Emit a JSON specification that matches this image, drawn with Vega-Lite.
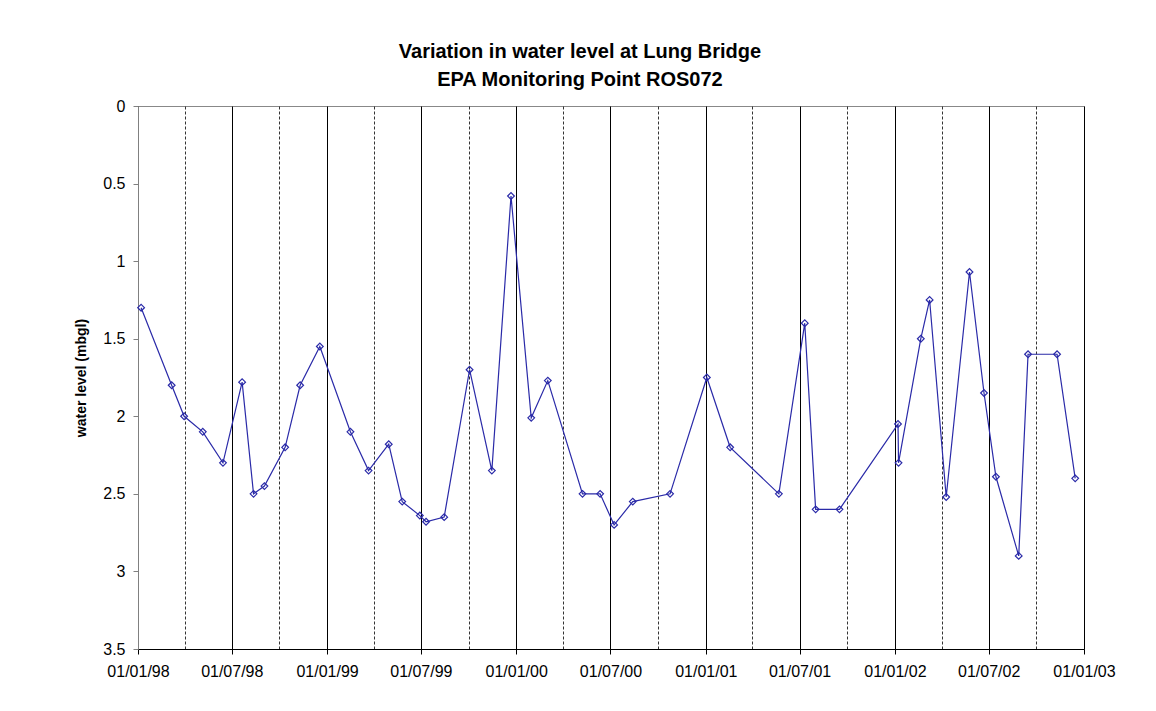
{
  "$schema": "https://vega.github.io/schema/vega-lite/v6.json",
  "autosize": {"type": "none"},
  "width": 946,
  "height": 543,
  "padding": {"left": 138, "top": 106, "right": 72, "bottom": 62},
  "background": "white",
  "config": {
    "font": "Liberation Sans",
    "view": {"stroke": "#888888", "strokeWidth": 1}
  },
  "title": {
    "text": ["Variation in water level at Lung Bridge", "EPA Monitoring Point ROS072"],
    "fontSize": 20,
    "fontWeight": "bold",
    "font": "Liberation Sans",
    "color": "black",
    "lineHeight": 28,
    "frame": "bounds",
    "anchor": "middle",
    "dx": -15,
    "offset": 8
  },
  "data": {
    "values": [
      {"date": "1998-01-07", "level": 1.3},
      {"date": "1998-03-07", "level": 1.8},
      {"date": "1998-03-31", "level": 2.0},
      {"date": "1998-05-06", "level": 2.1},
      {"date": "1998-06-14", "level": 2.3},
      {"date": "1998-07-21", "level": 1.78},
      {"date": "1998-08-12", "level": 2.5},
      {"date": "1998-09-02", "level": 2.45},
      {"date": "1998-10-12", "level": 2.2},
      {"date": "1998-11-10", "level": 1.8},
      {"date": "1998-12-18", "level": 1.55},
      {"date": "1999-02-15", "level": 2.1},
      {"date": "1999-03-22", "level": 2.35},
      {"date": "1999-04-30", "level": 2.18},
      {"date": "1999-05-26", "level": 2.55},
      {"date": "1999-06-29", "level": 2.64},
      {"date": "1999-07-11", "level": 2.68},
      {"date": "1999-08-15", "level": 2.65},
      {"date": "1999-10-03", "level": 1.7},
      {"date": "1999-11-15", "level": 2.35},
      {"date": "1999-12-22", "level": 0.58},
      {"date": "2000-01-30", "level": 2.01},
      {"date": "2000-03-02", "level": 1.77},
      {"date": "2000-05-08", "level": 2.5},
      {"date": "2000-06-11", "level": 2.5},
      {"date": "2000-07-08", "level": 2.7},
      {"date": "2000-08-13", "level": 2.55},
      {"date": "2000-10-24", "level": 2.5},
      {"date": "2001-01-03", "level": 1.75},
      {"date": "2001-02-17", "level": 2.2},
      {"date": "2001-05-22", "level": 2.5},
      {"date": "2001-07-11", "level": 1.4},
      {"date": "2001-08-01", "level": 2.6},
      {"date": "2001-09-16", "level": 2.6},
      {"date": "2002-01-07", "level": 2.05},
      {"date": "2002-01-08", "level": 2.3},
      {"date": "2002-02-20", "level": 1.5},
      {"date": "2002-03-09", "level": 1.25},
      {"date": "2002-04-10", "level": 2.52},
      {"date": "2002-05-25", "level": 1.07},
      {"date": "2002-06-22", "level": 1.85},
      {"date": "2002-07-15", "level": 2.39},
      {"date": "2002-08-28", "level": 2.9},
      {"date": "2002-09-15", "level": 1.6},
      {"date": "2002-11-10", "level": 1.6},
      {"date": "2002-12-15", "level": 2.4}
    ]
  },
  "encoding": {
    "x": {
      "field": "date",
      "type": "temporal",
      "scale": {
        "type": "utc",
        "domain": [
          {"year": 1998, "month": 1, "date": 1, "utc": true},
          {"year": 2003, "month": 1, "date": 1, "utc": true}
        ],
        "nice": false
      },
      "axis": {
        "title": null,
        "values": [
          {"year": 1998, "month": 1, "date": 1, "utc": true},
          {"year": 1998, "month": 4, "date": 1, "utc": true},
          {"year": 1998, "month": 7, "date": 1, "utc": true},
          {"year": 1998, "month": 10, "date": 1, "utc": true},
          {"year": 1999, "month": 1, "date": 1, "utc": true},
          {"year": 1999, "month": 4, "date": 1, "utc": true},
          {"year": 1999, "month": 7, "date": 1, "utc": true},
          {"year": 1999, "month": 10, "date": 1, "utc": true},
          {"year": 2000, "month": 1, "date": 1, "utc": true},
          {"year": 2000, "month": 4, "date": 1, "utc": true},
          {"year": 2000, "month": 7, "date": 1, "utc": true},
          {"year": 2000, "month": 10, "date": 1, "utc": true},
          {"year": 2001, "month": 1, "date": 1, "utc": true},
          {"year": 2001, "month": 4, "date": 1, "utc": true},
          {"year": 2001, "month": 7, "date": 1, "utc": true},
          {"year": 2001, "month": 10, "date": 1, "utc": true},
          {"year": 2002, "month": 1, "date": 1, "utc": true},
          {"year": 2002, "month": 4, "date": 1, "utc": true},
          {"year": 2002, "month": 7, "date": 1, "utc": true},
          {"year": 2002, "month": 10, "date": 1, "utc": true},
          {"year": 2003, "month": 1, "date": 1, "utc": true}
        ],
        "labelExpr": "utcmonth(datum.value) % 6 == 0 ? utcFormat(datum.value, '%d/%m/%y') : ''",
        "labelFontSize": 16,
        "labelColor": "black",
        "labelPadding": 9,
        "labelFlush": false,
        "labelOverlap": false,
        "tickSize": 5,
        "tickColor": "black",
        "tickOpacity": {"condition": {"test": "utcmonth(datum.value) % 6 == 0", "value": 1}, "value": 0},
        "domainColor": "black",
        "grid": true,
        "gridColor": {"condition": {"test": "utcmonth(datum.value) % 6 == 0", "value": "#000000"}, "value": "#333333"},
        "gridDash": {"condition": {"test": "utcmonth(datum.value) % 6 == 0", "value": []}, "value": [3, 2]},
        "gridOpacity": 1,
        "gridWidth": 1
      }
    },
    "y": {
      "field": "level",
      "type": "quantitative",
      "scale": {"domain": [0, 3.5], "reverse": true, "nice": false, "zero": false},
      "axis": {
        "title": "water level (mbgl)",
        "titleFontSize": 14,
        "titleFontWeight": "bold",
        "titleColor": "black",
        "titlePadding": 14,
        "values": [0, 0.5, 1, 1.5, 2, 2.5, 3, 3.5],
        "format": "~g",
        "labelFontSize": 16,
        "labelColor": "black",
        "labelPadding": 8,
        "tickSize": 5,
        "tickColor": "#808080",
        "domainColor": "#808080",
        "grid": false
      }
    }
  },
  "layer": [
    {
      "mark": {"type": "line", "color": "#2a2aa8", "strokeWidth": 1.2}
    },
    {
      "mark": {"type": "point", "shape": "diamond", "filled": false, "color": "#2a2aa8", "size": 45, "strokeWidth": 1.2, "opacity": 1}
    }
  ]
}
